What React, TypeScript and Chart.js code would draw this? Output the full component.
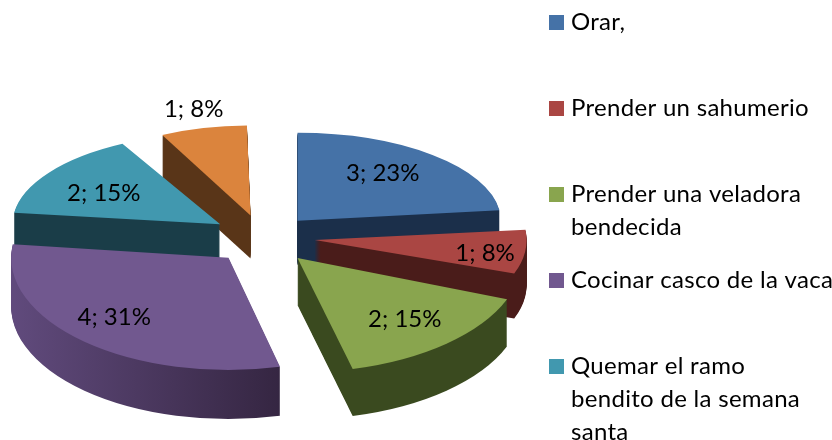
import React, { useEffect, useRef } from "react";
import { Chart, registerables } from "chart.js";

Chart.register(...registerables);

const categories = [
  "Orar,",
  "Prender un sahumerio",
  "Prender una veladora bendecida",
  "Cocinar casco de la vaca",
  "Quemar el ramo bendito de la semana santa",
  "",
];
const values = [3, 1, 2, 4, 2, 1];
const percents = [23, 8, 15, 31, 15, 8];
const legendLines = [
  ["Orar,"],
  ["Prender un sahumerio"],
  ["Prender una veladora", "bendecida"],
  ["Cocinar casco de la vaca"],
  ["Quemar el ramo", "bendito de la semana", "santa"],
];
const topColors = ["#4572A7", "#AA4643", "#89A54E", "#71588F", "#4198AF", "#DB843D"];
const sideLeft = ["#1B2F4A", "#4A1C1A", "#3A4A1F", "#604A7C", "#1A3D48", "#593518"];
const sideRight = ["#1B2F4A", "#4A1C1A", "#3A4A1F", "#33243F", "#1A3D48", "#593518"];

// 3D view settings of each slice
const scaleX = [0.96, 1, 1.06, 1.025, 0.98, 0.93];
const scaleY = [0.415, 0.47, 0.54, 0.53, 0.43, 0.425];
const depths = [44, 45, 47, 49, 44, 43];
const labelReach = [0.61, 0.81, 0.72, 0.8, 0.71, 1.27];
const labelShiftX = [3, 0, 0, 1, 5, 3];
const labelShiftY = [-7, 4, 0, -8, 6, 5];
const paintOrder = [5, 0, 4, 1, 3, 2];

const VIEW = { cx: 263, cy: 237, explode: 52, radius: 212 };
const FONT = "Lato";
const LEGEND = { boxX: 549, textX: 571, boxSize: 15, firstY: 22.5, itemGap: 86, lineHeight: 33 };

function sliceFrame(ctx: any, el: any, i: number) {
  const mid = (el.startAngle + el.endAngle) / 2;
  const off = VIEW.explode;
  // Chart.js widens an offset arc by offset * (1 - sin(circumference)): take that out again
  const drawnRadius = el.outerRadius + off * (1 - Math.sin(Math.min(Math.PI, el.circumference)));
  const fit = el.outerRadius / drawnRadius;
  ctx.translate(VIEW.cx + Math.cos(mid) * off, VIEW.cy + Math.sin(mid) * off * scaleY[i]);
  ctx.scale(scaleX[i] * fit, scaleY[i] * fit);
  ctx.translate(-(el.x + Math.cos(mid) * off), -(el.y + Math.sin(mid) * off));
}

const pie3d = {
  id: "pie3d",
  beforeDatasetDraw(chart: any) {
    const ctx = chart.ctx;
    const meta = chart.getDatasetMeta(0);
    for (const i of paintOrder) {
      const el = meta.data[i];
      const orig = el.options;
      const R = el.outerRadius;
      const grad = ctx.createLinearGradient(el.x - R, 0, el.x + R * 0.3, 0);
      grad.addColorStop(0, sideLeft[i]);
      grad.addColorStop(1, sideRight[i]);
      el.options = { ...orig, backgroundColor: grad };
      for (let d = depths[i]; d >= 1; d--) {
        ctx.save();
        ctx.translate(0, d);
        sliceFrame(ctx, el, i);
        el.draw(ctx);
        ctx.restore();
      }
      el.options = orig;
      ctx.save();
      sliceFrame(ctx, el, i);
      el.draw(ctx);
      ctx.restore();
    }
    return false;
  },
  afterDatasetsDraw(chart: any) {
    const ctx = chart.ctx;
    const meta = chart.getDatasetMeta(0);
    ctx.save();
    ctx.font = `24px ${FONT}`;
    ctx.fillStyle = "#000";
    ctx.textAlign = "center";
    ctx.textBaseline = "middle";
    meta.data.forEach((el: any, i: number) => {
      const mid = (el.startAngle + el.endAngle) / 2;
      const R = el.outerRadius;
      const tipX = VIEW.cx + Math.cos(mid) * VIEW.explode;
      const tipY = VIEW.cy + Math.sin(mid) * VIEW.explode * scaleY[i];
      const x = tipX + Math.cos(mid) * R * labelReach[i] * scaleX[i] + labelShiftX[i];
      const y = tipY + Math.sin(mid) * R * labelReach[i] * scaleY[i] + labelShiftY[i];
      ctx.fillText(`${values[i]}; ${percents[i]}%`, x, y);
    });
    ctx.restore();

    // legend
    ctx.save();
    ctx.font = `24px ${FONT}`;
    (ctx as any).letterSpacing = "0.3px";
    ctx.textBaseline = "middle";
    let y = LEGEND.firstY;
    legendLines.forEach((lines, i) => {
      ctx.fillStyle = topColors[i];
      ctx.fillRect(LEGEND.boxX, y - LEGEND.boxSize / 2, LEGEND.boxSize, LEGEND.boxSize);
      ctx.fillStyle = "#000";
      lines.forEach((line, j) => {
        ctx.fillText(line, LEGEND.textX, y + j * LEGEND.lineHeight);
      });
      y += LEGEND.itemGap;
    });
    ctx.restore();
  },
};

export default function App() {
  const ref = useRef<HTMLCanvasElement>(null);
  useEffect(() => {
    const chart = new Chart(ref.current!, {
      type: "pie",
      data: {
        labels: categories,
        datasets: [
          {
            data: values,
            backgroundColor: topColors,
            borderWidth: 0,
            offset: VIEW.explode * 4,
          },
        ],
      },
      options: {
        animation: false,
        responsive: false,
        radius: VIEW.radius,
        layout: { padding: 0 },
        plugins: { legend: { display: false }, tooltip: { enabled: false } },
      },
      plugins: [pie3d],
    } as any);
    return () => chart.destroy();
  }, []);
  return (
    <div style={{ position: "absolute", left: 0, top: 0, width: 832, height: 440, overflow: "hidden", background: "#fff" }}>
      <canvas ref={ref} width={832} height={440} style={{ display: "block" }} />
    </div>
  );
}
